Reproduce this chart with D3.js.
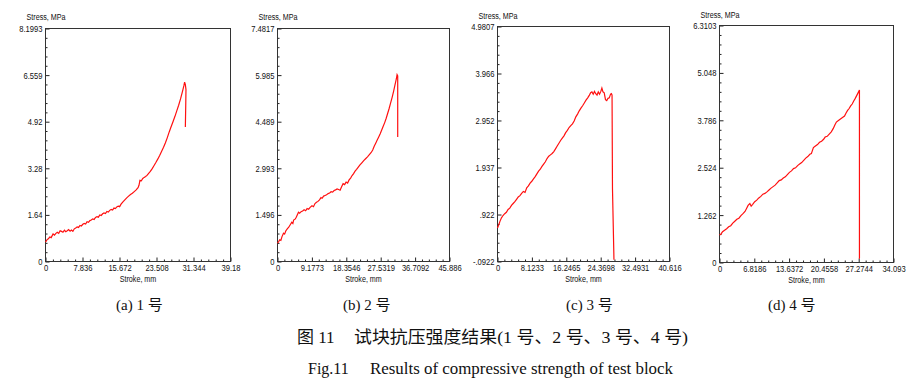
<!DOCTYPE html>
<html><head><meta charset="utf-8">
<script src="https://cdn.jsdelivr.net/npm/d3@7"></script>
<style>
html,body{margin:0;padding:0;background:#fff;}
svg{display:block;}
</style></head>
<body>
<svg id="chart" width="912" height="387"></svg>
<script>
// ---------- data: [stroke (mm), stress (MPa)] ----------
const curveA = [[0,0.68],[0.3,0.76],[0.6,0.80],[0.9,0.86],[1.2,0.84],[1.6,0.97],[1.9,0.93],[2.2,0.99],[2.5,1.03],[2.8,0.99],[3.1,1.08],[3.4,1.06],[3.7,1.03],[4.0,1.10],[4.3,1.05],[4.6,1.08],[4.9,1.12],[5.2,1.07],[5.5,1.11],[5.8,1.06],[6.1,1.15],[6.4,1.18],[6.7,1.22],[7.0,1.20],[7.3,1.27],[7.6,1.25],[7.9,1.31],[8.2,1.34],[8.5,1.32],[8.8,1.40],[9.1,1.38],[9.4,1.44],[9.7,1.46],[10.0,1.50],[10.3,1.48],[10.6,1.55],[10.9,1.58],[11.2,1.56],[11.5,1.64],[11.8,1.62],[12.1,1.68],[12.4,1.71],[12.7,1.69],[13.0,1.76],[13.3,1.74],[13.6,1.80],[13.9,1.83],[14.2,1.81],[14.5,1.88],[14.8,1.86],[15.1,1.92],[15.4,1.95],[15.7,1.93],[16.0,2.02],[16.4,2.10],[16.8,2.17],[17.2,2.24],[17.6,2.30],[18.0,2.36],[18.4,2.40],[18.8,2.46],[19.2,2.52],[19.6,2.60],[19.8,2.68],[20.0,2.86],[20.3,2.84],[20.6,2.92],[20.9,2.96],[21.2,2.99],[21.5,3.03],[21.8,3.09],[22.2,3.17],[22.6,3.27],[23.0,3.38],[23.4,3.49],[23.8,3.61],[24.2,3.74],[24.6,3.88],[25.0,4.02],[25.4,4.18],[25.8,4.36],[26.2,4.56],[26.6,4.74],[27.0,4.92],[27.4,5.10],[27.8,5.30],[28.2,5.50],[28.6,5.72],[29.0,5.98],[29.3,6.18],[29.46,6.31],[29.62,6.22],[29.75,6.05],[29.7,5.50],[29.62,4.73]];

const curveB = [[0,0.59],[0.3,0.64],[0.6,0.70],[0.9,0.68],[1.2,0.80],[1.6,0.91],[1.9,0.88],[2.2,0.98],[2.6,1.05],[3.0,1.10],[3.4,1.18],[3.8,1.26],[4.1,1.22],[4.3,1.33],[4.7,1.36],[5.0,1.42],[5.3,1.50],[5.6,1.58],[5.9,1.55],[6.3,1.60],[6.7,1.62],[7.1,1.66],[7.5,1.63],[7.9,1.70],[8.3,1.68],[8.7,1.74],[9.2,1.79],[9.6,1.76],[10.0,1.86],[10.4,1.90],[10.8,1.93],[11.2,1.98],[11.6,2.05],[11.9,2.03],[12.3,2.10],[12.7,2.12],[13.1,2.14],[13.5,2.18],[13.9,2.20],[14.3,2.24],[14.7,2.23],[15.1,2.28],[15.5,2.30],[15.9,2.33],[16.3,2.31],[16.7,2.29],[17.1,2.40],[17.5,2.50],[17.9,2.47],[18.3,2.55],[18.7,2.52],[19.1,2.62],[19.5,2.68],[19.9,2.76],[20.3,2.82],[20.7,2.90],[21.1,2.96],[21.6,3.04],[22.0,3.10],[22.5,3.17],[23.0,3.24],[23.5,3.30],[24.0,3.36],[24.5,3.43],[25.0,3.50],[25.4,3.58],[25.8,3.70],[26.2,3.80],[26.6,3.90],[27.0,4.00],[27.4,4.10],[27.8,4.22],[28.2,4.34],[28.6,4.46],[29.0,4.60],[29.4,4.76],[29.8,4.92],[30.2,5.10],[30.6,5.28],[31.0,5.48],[31.4,5.70],[31.7,5.86],[31.9,6.00],[32.07,5.96],[32.07,4.00]];

const curveC = [[0,0.63],[0.3,0.70],[0.6,0.78],[0.94,0.85],[1.3,0.90],[1.7,0.94],[2.1,0.97],[2.5,1.03],[2.9,1.06],[3.3,1.12],[3.7,1.16],[4.1,1.20],[4.5,1.25],[4.9,1.30],[5.3,1.33],[5.7,1.38],[6.1,1.42],[6.5,1.40],[6.9,1.50],[7.3,1.54],[7.7,1.60],[8.1,1.64],[8.5,1.69],[8.9,1.74],[9.3,1.80],[9.7,1.86],[10.1,1.90],[10.5,1.96],[10.9,2.01],[11.3,2.06],[11.7,2.13],[12.1,2.18],[12.5,2.21],[12.9,2.24],[13.3,2.28],[13.7,2.34],[14.1,2.40],[14.5,2.46],[14.9,2.52],[15.3,2.57],[15.7,2.62],[16.1,2.69],[16.5,2.74],[16.9,2.80],[17.3,2.84],[17.7,2.88],[18.1,2.94],[18.5,3.03],[18.9,3.09],[19.3,3.16],[19.7,3.22],[20.1,3.27],[20.5,3.33],[20.9,3.39],[21.3,3.44],[21.7,3.50],[22.0,3.55],[22.3,3.57],[22.6,3.52],[22.9,3.58],[23.2,3.53],[23.5,3.50],[23.8,3.57],[24.1,3.52],[24.4,3.58],[24.65,3.65],[24.9,3.57],[25.2,3.55],[25.5,3.40],[25.8,3.38],[26.1,3.43],[26.4,3.44],[26.7,3.52],[26.9,3.53],[27.05,3.50],[27.15,1.49],[27.5,-0.055]];

const curveD = [[0,0.73],[0.3,0.76],[0.6,0.82],[1.0,0.86],[1.4,0.90],[1.8,0.95],[2.2,0.98],[2.6,1.05],[3.0,1.10],[3.4,1.15],[3.8,1.18],[4.2,1.25],[4.6,1.30],[5.0,1.36],[5.3,1.44],[5.6,1.52],[5.95,1.57],[6.2,1.50],[6.5,1.55],[6.9,1.62],[7.3,1.66],[7.7,1.72],[8.1,1.76],[8.5,1.82],[8.9,1.84],[9.3,1.88],[9.7,1.93],[10.1,1.98],[10.5,2.02],[10.9,2.06],[11.3,2.12],[11.7,2.18],[12.1,2.20],[12.5,2.25],[12.9,2.28],[13.3,2.34],[13.7,2.40],[14.1,2.44],[14.5,2.50],[14.9,2.52],[15.3,2.58],[15.7,2.62],[16.1,2.66],[16.5,2.72],[16.9,2.78],[17.3,2.82],[17.7,2.88],[18.0,2.90],[18.4,3.06],[18.8,3.10],[19.2,3.14],[19.6,3.20],[20.0,3.23],[20.4,3.28],[20.7,3.34],[21.1,3.36],[21.5,3.42],[21.9,3.48],[22.3,3.57],[22.6,3.66],[22.9,3.74],[23.3,3.78],[23.7,3.82],[24.1,3.86],[24.5,3.90],[24.8,3.98],[25.1,4.05],[25.4,4.10],[25.7,4.17],[26.0,4.22],[26.3,4.30],[26.6,4.37],[26.9,4.45],[27.2,4.53],[27.42,4.59],[27.42,0.10]];

const xTicksA = [0,7.836,15.672,23.508,31.344,39.18];
const xLabelsA = ["0","7.836","15.672","23.508","31.344","39.18"];
const yTicksA = [0,1.64,3.28,4.92,6.559,8.1993];
const yLabelsA = ["0","1.64","3.28","4.92","6.559","8.1993"];

const xTicksB = [0,9.1773,18.3546,27.5319,36.7092,45.886];
const xLabelsB = ["0","9.1773","18.3546","27.5319","36.7092","45.886"];
const yTicksB = [0,1.496,2.993,4.489,5.985,7.4817];
const yLabelsB = ["0","1.496","2.993","4.489","5.985","7.4817"];

const xTicksC = [0,8.1233,16.2465,24.3698,32.4931,40.616];
const xLabelsC = ["0","8.1233","16.2465","24.3698","32.4931","40.616"];
const yTicksC = [-0.0922,0.922,1.937,2.952,3.966,4.9807];
const yLabelsC = ["-.0922",".922","1.937","2.952","3.966","4.9807"];

const xTicksD = [0,6.8186,13.6372,20.4558,27.2744,34.093];
const xLabelsD = ["0","6.8186","13.6372","20.4558","27.2744","34.093"];
const yTicksD = [0,1.262,2.524,3.786,5.048,6.3103];
const yLabelsD = ["0","1.262","2.524","3.786","5.048","6.3103"];

const subCaptions = ["(a) 1 号","(b) 2 号","(c) 3 号","(d) 4 号"];
const captionCN = ["图 11","试块抗压强度结果(1 号、2 号、3 号、4 号)"];
const captionEN = ["Fig.11","Results of compressive strength of test block"];
const yTitle = "Stress, MPa";
const xTitle = "Stroke, mm";

// ---------- layout ----------
const panels = [
  {pts:curveA, xt:xTicksA, xl:xLabelsA, yt:yTicksA, yl:yLabelsA, box:[45.5,28.5,230.5,261.5], ty:20.5, cap:116},
  {pts:curveB, xt:xTicksB, xl:xLabelsB, yt:yTicksB, yl:yLabelsB, box:[277.5,28.5,449.5,261.5], ty:20.5, cap:343},
  {pts:curveC, xt:xTicksC, xl:xLabelsC, yt:yTicksC, yl:yLabelsC, box:[497.5,26.5,669.5,261.5], ty:19, cap:566},
  {pts:curveD, xt:xTicksD, xl:xLabelsD, yt:yTicksD, yl:yLabelsD, box:[719.5,25.5,893.5,262.5], ty:18.5, cap:768}
];

const svg = d3.select("#chart");
const tickFont = "'Liberation Sans', Arial, sans-serif";

function minorVals(t){
  const out=[];
  for(let i=0;i<t.length-1;i++){
    const s=(t[i+1]-t[i])/5;
    for(let k=1;k<5;k++) out.push(t[i]+k*s);
  }
  return out;
}

panels.forEach(p=>{
  const [L,T,R,B]=p.box;
  const x=d3.scaleLinear().domain([p.xt[0],p.xt[p.xt.length-1]]).range([L,R]);
  const y=d3.scaleLinear().domain([p.yt[0],p.yt[p.yt.length-1]]).range([B,T]);
  const g=svg.append("g");

  // minor ticks
  g.append("g").attr("transform",`translate(0,${B})`)
    .call(d3.axisBottom(x).tickValues(minorVals(p.xt)).tickSize(-2).tickFormat(""))
    .call(a=>a.select(".domain").remove())
    .selectAll("line").attr("stroke","#222");
  g.append("g").attr("transform",`translate(${L},0)`)
    .call(d3.axisLeft(y).tickValues(minorVals(p.yt)).tickSize(-2).tickFormat(""))
    .call(a=>a.select(".domain").remove())
    .selectAll("line").attr("stroke","#222");

  // major axes
  const xa=g.append("g").attr("transform",`translate(0,${B})`)
    .call(d3.axisBottom(x).tickValues(p.xt).tickSize(-4).tickPadding(3).tickFormat((d,i)=>p.xl[i]));
  const ya=g.append("g").attr("transform",`translate(${L},0)`)
    .call(d3.axisLeft(y).tickValues(p.yt).tickSize(-4).tickPadding(3).tickFormat((d,i)=>p.yl[i]));
  [xa,ya].forEach(a=>{
    a.select(".domain").remove();
    a.selectAll("line").attr("stroke","#222");
    a.selectAll("text").attr("font-family",tickFont).attr("font-size",9.5)
      .attr("fill","#111").attr("transform","scale(0.8,1)");
  });
  ya.selectAll("text").attr("x",-3/0.8);

  // frame
  g.append("rect").attr("x",L).attr("y",T).attr("width",R-L).attr("height",B-T)
    .attr("fill","none").attr("stroke","#333").attr("stroke-width",1);

  // curve
  g.append("path").datum(p.pts)
    .attr("d",d3.line().x(d=>x(d[0])).y(d=>y(d[1])))
    .attr("fill","none").attr("stroke","#ff1010").attr("stroke-width",1.2)
    .attr("stroke-linejoin","miter");

  // titles
  g.append("text").attr("x",(L-19)/0.8).attr("y",p.ty).attr("transform","scale(0.8,1)")
    .attr("font-family",tickFont).attr("font-size",9).attr("fill","#111").text(yTitle);
  g.append("text").attr("x",((L+R)/2)/0.8).attr("y",B+21).attr("transform","scale(0.8,1)")
    .attr("text-anchor","middle")
    .attr("font-family",tickFont).attr("font-size",9).attr("fill","#111").text(xTitle);
});

// captions
const serif = "'Liberation Serif','Times New Roman','Noto Sans CJK SC',serif";
panels.forEach((p,i)=>{
  svg.append("text").attr("x",p.cap).attr("y",310).attr("font-family",serif)
    .attr("font-size",15).attr("fill","#111").text(subCaptions[i]);
});
svg.append("text").attr("x",297).attr("y",343).attr("font-family",serif)
  .attr("font-size",17).attr("fill","#111").text(captionCN[0]);
svg.append("text").attr("x",354).attr("y",343).attr("font-family",serif)
  .attr("font-size",17).attr("fill","#111").attr("textLength",334).attr("lengthAdjust","spacingAndGlyphs").text(captionCN[1]);
svg.append("text").attr("x",308).attr("y",374).attr("font-family",serif)
  .attr("font-size",16).attr("fill","#111").text(captionEN[0]);
svg.append("text").attr("x",370).attr("y",374).attr("font-family",serif)
  .attr("font-size",16).attr("fill","#111").attr("textLength",303).attr("lengthAdjust","spacingAndGlyphs").text(captionEN[1]);
</script>
</body></html>
